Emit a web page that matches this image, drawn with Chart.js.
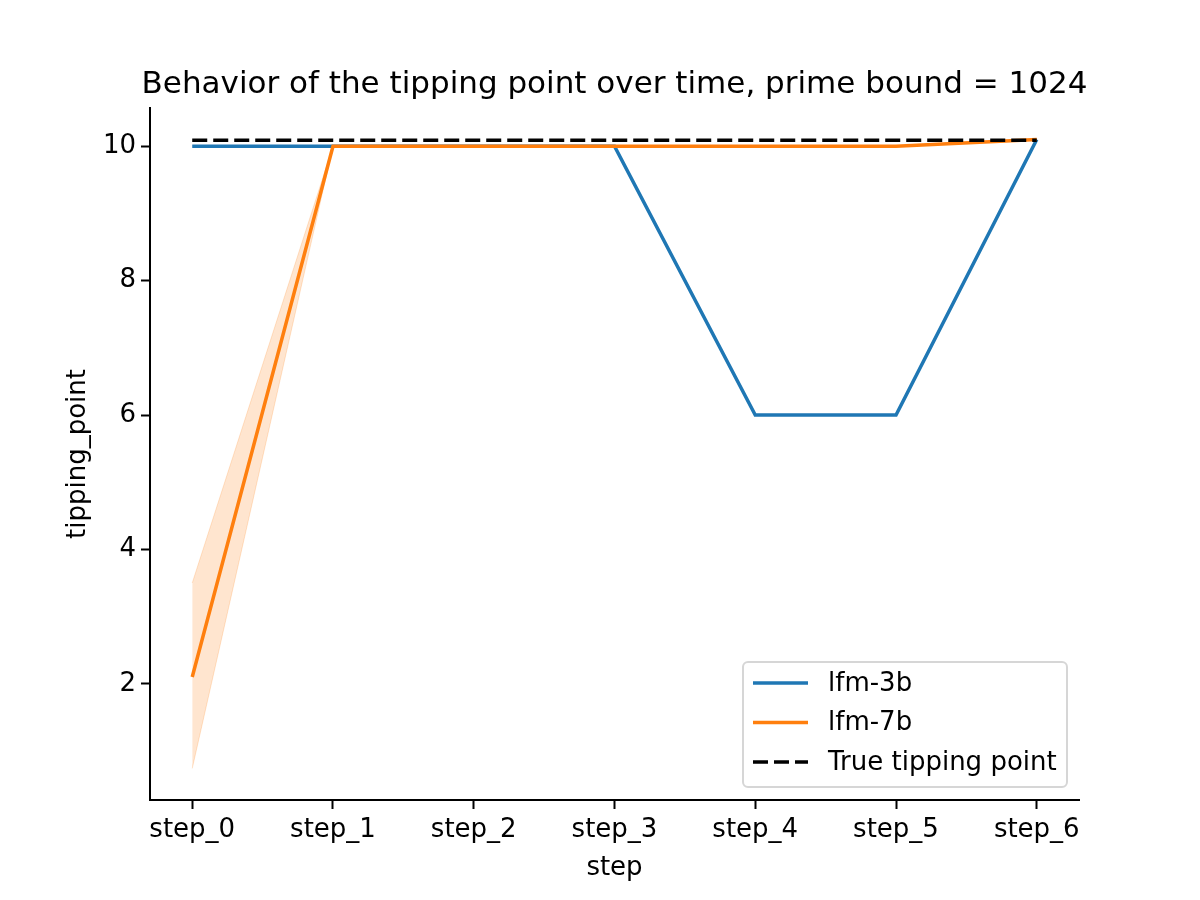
<!DOCTYPE html>
<html>
<head>
<meta charset="utf-8">
<script src="https://cdn.jsdelivr.net/npm/chart.js@4.4.1/dist/chart.umd.min.js"></script>
<style>
  html, body { margin: 0; padding: 0; background: #ffffff; }
  #wrap { width: 1200px; height: 900px; }
</style>
</head>
<body>
<div id="wrap"><canvas id="c" width="1200" height="900"></canvas></div>
<script>
// ---- data ----
const steps = ['step_0', 'step_1', 'step_2', 'step_3', 'step_4', 'step_5', 'step_6'];
const lfm3b = [10, 10, 10, 10, 6, 6, 10.1];
const lfm7b = [2.1, 10, 10, 10, 10, 10, 10.1];
const lfm7bLower = [0.74, 10, 10, 10, 10, 10, 10.1];
const lfm7bUpper = [3.5, 10, 10, 10, 10, 10, 10.1];
const trueTipping = [10.09, 10.09, 10.09, 10.09, 10.09, 10.09, 10.09];
const yTicks = [2, 4, 6, 8, 10];
const titleText = 'Behavior of the tipping point over time, prime bound = 1024';
const xLabel = 'step';
const yLabel = 'tipping_point';

const FONT = '"DejaVu Sans", sans-serif';
const BLUE = '#1f77b4', ORANGE = '#ff7f0e';
const TICK_PX = 26, TITLE_PX = 31;

const toXY = arr => arr.map((v, i) => ({ x: i, y: v }));

const legendItems = [
  { label: 'lfm-3b', color: BLUE, dash: [] },
  { label: 'lfm-7b', color: ORANGE, dash: [] },
  { label: 'True tipping point', color: '#000000', dash: [15, 6] }
];

const decorPlugin = {
  id: 'decor',
  afterDraw(chart) {
    const ctx = chart.ctx;
    const ca = chart.chartArea;
    ctx.save();
    // title
    ctx.fillStyle = '#000';
    ctx.font = TITLE_PX + 'px ' + FONT;
    ctx.textAlign = 'center';
    ctx.textBaseline = 'alphabetic';
    ctx.fillText(titleText, (ca.left + ca.right) / 2, 93);
    // x label
    ctx.font = TICK_PX + 'px ' + FONT;
    ctx.fillText(xLabel, (ca.left + ca.right) / 2, 875);
    // y label
    ctx.save();
    ctx.translate(85, (ca.top + ca.bottom) / 2);
    ctx.rotate(-Math.PI / 2);
    ctx.fillText(yLabel, 0, 0);
    ctx.restore();
    // legend
    const bw = 324, bh = 125;
    const bx = ca.right - 12 - bw, by = ca.bottom - 13 - bh;
    const r = 5;
    ctx.beginPath();
    ctx.moveTo(bx + r, by);
    ctx.arcTo(bx + bw, by, bx + bw, by + bh, r);
    ctx.arcTo(bx + bw, by + bh, bx, by + bh, r);
    ctx.arcTo(bx, by + bh, bx, by, r);
    ctx.arcTo(bx, by, bx + bw, by, r);
    ctx.closePath();
    ctx.fillStyle = 'rgba(255,255,255,0.8)';
    ctx.fill();
    ctx.strokeStyle = '#d6d6d6';
    ctx.lineWidth = 2;
    ctx.stroke();
    ctx.textAlign = 'left';
    ctx.textBaseline = 'middle';
    ctx.font = TICK_PX + 'px ' + FONT;
    legendItems.forEach((it, i) => {
      const cy = by + 21 + i * 39.5;
      ctx.beginPath();
      ctx.setLineDash(it.dash);
      ctx.strokeStyle = it.color;
      ctx.lineWidth = 3.5;
      ctx.moveTo(bx + 10, cy);
      ctx.lineTo(bx + 65, cy);
      ctx.stroke();
      ctx.setLineDash([]);
      ctx.fillStyle = '#000';
      ctx.fillText(it.label, bx + 85, cy + 1);
    });
    ctx.restore();
  }
};

new Chart(document.getElementById('c'), {
  type: 'line',
  data: {
    datasets: [
      {
        label: 'True tipping point', data: toXY(trueTipping), borderColor: '#000000',
        borderWidth: 3.5, borderDash: [15, 6], pointRadius: 0, fill: false, order: 0, tension: 0
      },
      {
        label: 'lfm-7b', data: toXY(lfm7b), borderColor: ORANGE, borderWidth: 3.5,
        pointRadius: 0, fill: false, order: 1, tension: 0
      },
      {
        label: 'lfm-3b', data: toXY(lfm3b), borderColor: BLUE, borderWidth: 3.5,
        pointRadius: 0, fill: false, order: 2, tension: 0
      },
      {
        label: 'upper', data: toXY(lfm7bUpper), borderColor: 'rgba(255,127,14,0.2)', borderWidth: 1,
        backgroundColor: 'rgba(255,127,14,0.2)', pointRadius: 0, fill: '+1', order: 3, tension: 0
      },
      {
        label: 'lower', data: toXY(lfm7bLower), borderColor: 'rgba(255,127,14,0.2)', borderWidth: 1,
        pointRadius: 0, fill: false, order: 4, tension: 0
      }
    ]
  },
  options: {
    responsive: false,
    animation: false,
    devicePixelRatio: 1,
    layout: { padding: { top: 108, right: 121, left: 0, bottom: 0 } },
    plugins: {
      legend: { display: false },
      title: { display: false },
      tooltip: { enabled: false },
      filler: { propagate: false }
    },
    scales: {
      x: {
        type: 'linear', min: -0.3, max: 6.3,
        afterBuildTicks: s => { s.ticks = steps.map((_, i) => ({ value: i })); },
        afterFit: s => { s.height = 100; },
        ticks: {
          callback: v => steps[v] !== undefined ? steps[v] : '',
          color: '#000', font: { family: FONT, size: TICK_PX }, padding: 6, maxRotation: 0, autoSkip: false
        },
        grid: { display: true, drawOnChartArea: false, drawTicks: true, tickLength: 9, tickWidth: 2, tickColor: '#000' },
        border: { display: true, color: '#000', width: 2 }
      },
      y: {
        type: 'linear', min: 0.27, max: 10.57,
        afterBuildTicks: s => { s.ticks = yTicks.map(v => ({ value: v })); },
        afterFit: s => { s.width = 150; },
        ticks: {
          color: '#000', font: { family: FONT, size: TICK_PX }, padding: 5
        },
        grid: { display: true, drawOnChartArea: false, drawTicks: true, tickLength: 9, tickWidth: 2, tickColor: '#000' },
        border: { display: true, color: '#000', width: 2 }
      }
    }
  },
  plugins: [decorPlugin]
});
</script>
</body>
</html>
